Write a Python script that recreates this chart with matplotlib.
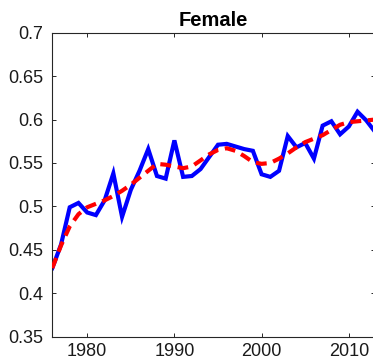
import matplotlib
matplotlib.use("Agg")
import matplotlib.pyplot as plt
from matplotlib.ticker import FuncFormatter

plt.rcParams['font.family'] = ['Liberation Sans', 'DejaVu Sans']

years = list(range(1976, 2014))

# observed female share
observed = [0.429, 0.456, 0.499, 0.504, 0.493, 0.490, 0.507, 0.538, 0.488, 0.519,
            0.541, 0.566, 0.535, 0.532, 0.576, 0.534, 0.535, 0.543, 0.557, 0.571,
            0.572, 0.569, 0.566, 0.564, 0.537, 0.534, 0.541, 0.581, 0.568, 0.573,
            0.555, 0.593, 0.598, 0.583, 0.592, 0.609, 0.599, 0.586]

# smoothed trend
trend = [0.429, 0.455, 0.477, 0.491, 0.499, 0.503, 0.507, 0.512, 0.518, 0.525,
         0.533, 0.541, 0.549, 0.548, 0.546, 0.544, 0.546, 0.553, 0.560, 0.565,
         0.567, 0.564, 0.558, 0.551, 0.549, 0.550, 0.555, 0.561, 0.568, 0.574,
         0.578, 0.582, 0.588, 0.594, 0.597, 0.598, 0.599, 0.600]

x_ticks = [1980, 1990, 2000, 2010]
y_ticks = [0.35, 0.4, 0.45, 0.5, 0.55, 0.6, 0.65, 0.7]

fig = plt.figure(figsize=(3.73, 3.64), dpi=100)
ax = fig.add_axes([0.1402, 0.075, 0.8651, 0.8352])

ax.plot(years, observed, color=(0, 0, 1), lw=3.0, solid_joinstyle='miter', zorder=2)
ax.plot(years, trend, color=(1, 0, 0), lw=3.0, dashes=[2.6, 1.6], zorder=3)

ax.set_xlim(1976, 2013)
ax.set_ylim(0.35, 0.7)
ax.set_xticks(x_ticks)
ax.set_yticks(y_ticks)
ax.yaxis.set_major_formatter(FuncFormatter(lambda v, p: f"{v:g}"))

edge = (0.15, 0.15, 0.15)
for s in ax.spines.values():
    s.set_color(edge)
    s.set_linewidth(0.8)
ax.tick_params(direction='in', length=3, width=0.7, colors=edge,
               top=True, right=True, labelsize=13)
ax.tick_params(axis='y', pad=6.5)
ax.tick_params(axis='x', pad=4.5)
for lab in ax.get_xticklabels() + ax.get_yticklabels():
    lab.set_color((0.1, 0.1, 0.1))

ax.set_title("Female", fontsize=14.5, fontweight='bold', pad=5)

fig.savefig("out.png", dpi=100)
